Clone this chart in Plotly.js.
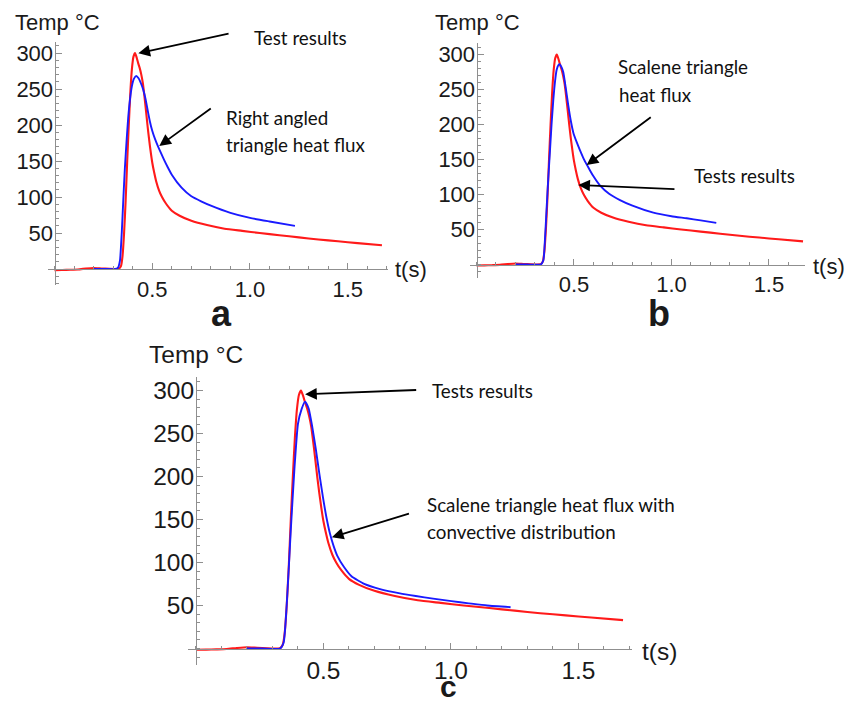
<!DOCTYPE html>
<html><head><meta charset="utf-8">
<script src="https://cdn.plot.ly/plotly-3.0.1.min.js"></script>
<style>html,body{margin:0;padding:0;background:#fff}</style>
</head><body><div id="chart" style="width:858px;height:705px"></div>
<script>
// ---- Data ----
// Test results (same measurement in all three panels)
const tTest = [0, 0.04, 0.08, 0.12, 0.16, 0.20, 0.24, 0.28, 0.31, 0.33, 0.340, 0.348, 0.356, 0.364, 0.372, 0.380, 0.388, 0.396, 0.404, 0.412, 0.420, 0.428, 0.436, 0.444, 0.452, 0.460, 0.468, 0.476, 0.484, 0.492, 0.500, 0.510, 0.520, 0.535, 0.550, 0.570, 0.600, 0.640, 0.700, 0.780, 0.870, 0.960, 1.050, 1.150, 1.250, 1.350, 1.450, 1.550, 1.675];
const tempTest = [-1.5, -1.3, -1.0, -0.6, 0.6, 1.5, 0.8, 0.2, 0, 0.5, 4, 18, 50, 95, 150, 200, 245, 278, 295, 300, 294, 286, 279, 270, 258, 240, 220, 199, 180, 163, 148, 134, 122, 109, 100, 91, 81, 74, 67, 61, 56, 53, 50, 47, 44, 41, 38.5, 36, 33];

// (a) Right angled triangle heat flux
const tRightAngled = [0.20, 0.26, 0.31, 0.325, 0.335, 0.344, 0.352, 0.360, 0.369, 0.377, 0.386, 0.396, 0.406, 0.418, 0.430, 0.442, 0.454, 0.466, 0.477, 0.488, 0.500, 0.515, 0.530, 0.545, 0.560, 0.580, 0.600, 0.650, 0.700, 0.750, 0.800, 0.900, 1.000, 1.100, 1.230];
const tempRightAngled = [0, 0, 0, 2, 12, 50, 96, 140, 179, 210, 235, 254, 264, 268, 265, 258, 249, 236, 220, 205, 192, 180, 170, 161, 152, 141, 131, 113, 101, 94, 88, 78, 71, 66, 60];

// (b) Scalene triangle heat flux
const tScalene = [0.20, 0.26, 0.33, 0.343, 0.352, 0.360, 0.368, 0.377, 0.385, 0.394, 0.403, 0.411, 0.420, 0.428, 0.436, 0.445, 0.458, 0.471, 0.484, 0.497, 0.515, 0.531, 0.550, 0.565, 0.583, 0.600, 0.633, 0.680, 0.736, 0.800, 0.907, 1.000, 1.078, 1.150, 1.230];
const tempScalene = [0, 0, 0, 6, 40, 82, 122, 163, 200, 235, 262, 278, 285, 286, 282, 275, 252, 227, 205, 188, 174, 163, 151, 143, 134, 126, 113, 101, 92, 84, 74, 69, 66, 63, 59.5];

// (c) Scalene triangle heat flux with convective distribution
const tConvective = [0.20, 0.26, 0.33, 0.344, 0.358, 0.372, 0.386, 0.400, 0.414, 0.428, 0.442, 0.456, 0.470, 0.484, 0.498, 0.512, 0.526, 0.540, 0.554, 0.580, 0.610, 0.660, 0.722, 0.800, 0.862, 0.930, 1.002, 1.070, 1.142, 1.234];
const tempConvective = [0, 0, 0, 7, 61, 138, 208, 261, 278, 287, 279, 258, 232, 203, 176, 152, 133, 119, 108, 95, 84, 75, 69, 64, 61, 58, 55, 52.5, 50, 48];

const xTickVals = [0.5, 1.0, 1.5];
const xTickText = ['0.5', '1.0', '1.5'];
const yTickVals = [50, 100, 150, 200, 250, 300];
const yTickText = ['50', '100', '150', '200', '250', '300'];

// ---- Layout helpers ----
const W = 858, H = 705;
const PX = x => x / W, PY = y => 1 - y / H;
const AX = '#8f8f8f';
const TICKFONT = 'Liberation Sans, Arial, sans-serif';
const NOTEFONT = 'Lato, Open Sans, sans-serif';

const panels = [
  {x0: 48, x1: 388, xr: [-0.0332, 1.706], y0: 42, y1: 285, yr: [-22.2, 315.3], axY: 269, axX: 54.5, fs: 22},
  {x0: 470, x1: 805, xr: [-0.0333, 1.685], y0: 42.7, y1: 278, yr: [-19.3, 316.9], axY: 264.5, axX: 476.5, fs: 22},
  {x0: 188.3, x1: 631.7, xr: [-0.030, 1.709], y0: 376.7, y1: 665, yr: [-19.2, 316], axY: 648.5, axX: 196, fs: 24.5}
];

const layout = {
  width: W, height: H,
  margin: {l: 0, r: 0, t: 0, b: 0},
  paper_bgcolor: '#fff', plot_bgcolor: 'rgba(0,0,0,0)',
  showlegend: false,
  annotations: [], shapes: []
};

panels.forEach((p, i) => {
  const s = i === 0 ? '' : String(i + 1);
  layout['xaxis' + s] = {
    domain: [PX(p.x0), PX(p.x1)], range: p.xr, anchor: 'free', position: PY(p.axY),
    showline: true, linecolor: AX, linewidth: 1.3, showgrid: false, zeroline: false,
    tickmode: 'array', tickvals: xTickVals, ticktext: xTickText,
    ticks: 'inside', ticklen: 6, tickwidth: 1, tickcolor: AX,
    tickfont: {family: TICKFONT, size: p.fs, color: '#1a1a1a'},
    minor: {tickmode: 'linear', tick0: 0, dtick: 0.1, ticks: 'inside', ticklen: 3, tickcolor: AX, showgrid: false},
    fixedrange: true
  };
  layout['yaxis' + s] = {
    domain: [PY(p.y1), PY(p.y0)], range: p.yr, anchor: 'free', position: PX(p.axX),
    showline: true, linecolor: AX, linewidth: 1.3, showgrid: false, zeroline: false,
    tickmode: 'array', tickvals: yTickVals, ticktext: yTickText,
    ticks: 'inside', ticklen: 6, tickwidth: 1, tickcolor: AX, ticklabelstandoff: -3,
    tickfont: {family: TICKFONT, size: p.fs, color: '#1a1a1a'},
    minor: {tickmode: 'linear', tick0: 0, dtick: 10, ticks: 'inside', ticklen: 3, tickcolor: AX, showgrid: false},
    fixedrange: true
  };
});

const seriesBlue = [[tRightAngled, tempRightAngled], [tScalene, tempScalene], [tConvective, tempConvective]];
const data = [];
panels.forEach((p, i) => {
  const s = i === 0 ? '' : String(i + 1);
  data.push({x: tTest, y: tempTest, xaxis: 'x' + s, yaxis: 'y' + s, type: 'scatter', mode: 'lines',
    line: {color: '#ff1a1a', width: 2.1, shape: 'spline', smoothing: 0.5}, hoverinfo: 'skip'});
  data.push({x: seriesBlue[i][0], y: seriesBlue[i][1], xaxis: 'x' + s, yaxis: 'y' + s, type: 'scatter', mode: 'lines',
    line: {color: '#1a1aff', width: 1.9, shape: 'spline', smoothing: 0.5}, hoverinfo: 'skip'});
});

function label(text, x, y, size, opts) {
  layout.annotations.push(Object.assign({
    text: text, xref: 'paper', yref: 'paper', x: PX(x), y: PY(y), xanchor: 'left', yanchor: 'middle',
    showarrow: false, font: {family: TICKFONT, size: size, color: '#1a1a1a'}
  }, opts || {}));
}
function note(text, x, y) {
  layout.annotations.push({
    text: text, xref: 'paper', yref: 'paper', x: PX(x), y: PY(y), xanchor: 'left', yanchor: 'middle',
    showarrow: false, font: {family: NOTEFONT, size: 18.8, color: '#111'}
  });
}
function arrow(s, tx, ty, ax, ay) {
  layout.annotations.push({
    text: '', xref: 'x' + s, yref: 'y' + s, x: tx, y: ty, ax: ax, ay: ay,
    showarrow: true, arrowhead: 2, arrowsize: 1.3, arrowwidth: 1.8, arrowcolor: '#000', standoff: 0
  });
}

// Axis titles
label('Temp °C', 13, 22, 22);
label('t(s)', 393, 269, 22);
label('Temp °C', 433, 22, 22);
label('t(s)', 811, 266, 22);
label('Temp °C', 147, 355, 24.5);
label('t(s)', 640, 651, 24.5);

// Panel letters
label('<b>a</b>', 221, 313, 36, {xanchor: 'center'});
label('<b>b</b>', 659, 313, 36, {xanchor: 'center'});
label('<b>c</b>', 448, 705, 30, {xanchor: 'center', yanchor: 'bottom'});

// Notes
note('Test results', 252, 38);
note('Right angled', 224, 117.5);
note('triangle heat flux', 224, 145);
note('Scalene triangle', 616, 66.7);
note('heat flux', 616.5, 95);
note('Tests results', 691.5, 175);
note('Tests results', 429.5, 390);
note('Scalene triangle heat flux with', 425, 504);
note('convective distribution', 425, 531.7);

// Arrows (head in data coordinates, tail offset in pixels)
arrow('', 0.429, 299.6, 91.7, -20);
arrow('', 0.536, 171, 53, -38.4);
arrow('2', 0.565, 142, 65.6, -49);
arrow('2', 0.522, 113.6, 97.7, 4.3);
arrow('3', 0.428, 295.6, 112.6, -4.3);
arrow('3', 0.533, 129.4, 78.6, -24);

Plotly.newPlot('chart', data, layout, {staticPlot: true, displayModeBar: false});
</script>
</body></html>
